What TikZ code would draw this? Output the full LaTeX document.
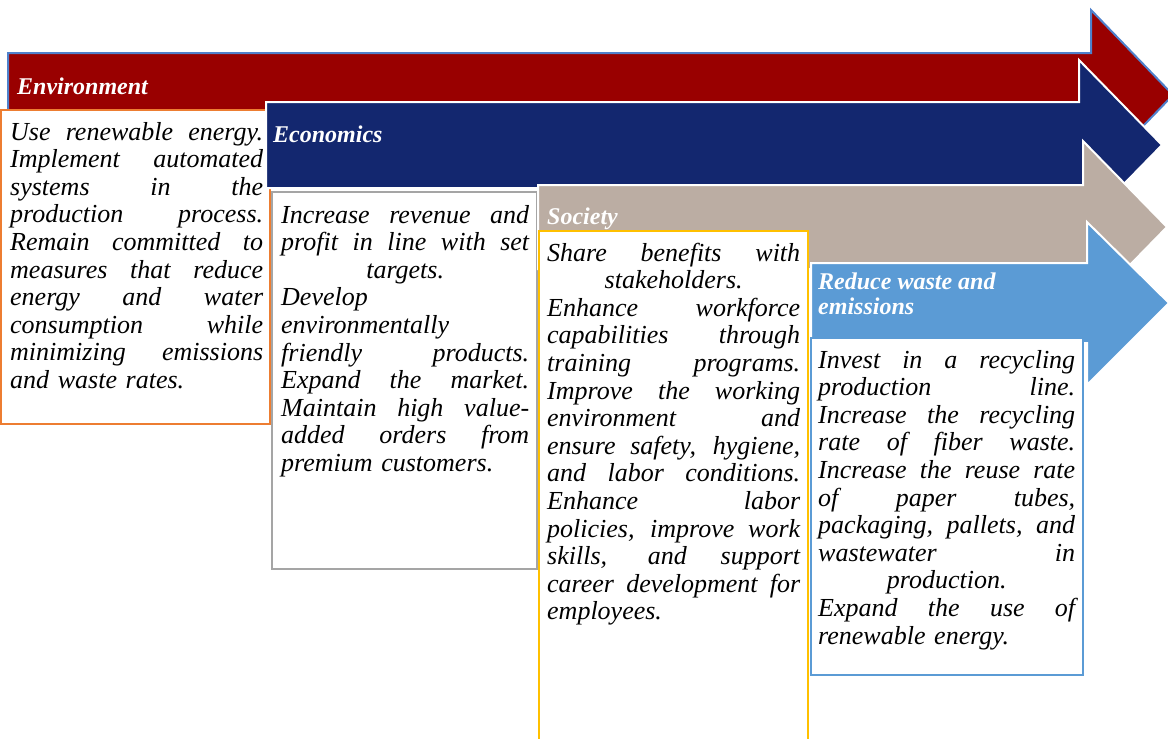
\documentclass[tikz,border=0pt]{standalone}
\usepackage{fontspec}
\setmainfont{Liberation Serif}

\definecolor{envred}{HTML}{990000}
\definecolor{econavy}{HTML}{13276F}
\definecolor{soctaupe}{HTML}{BBADA3}
\definecolor{redblue}{HTML}{5B9BD5}
\definecolor{rimblue}{HTML}{4F81CC}
\definecolor{boxorange}{HTML}{ED7D31}
\definecolor{boxgray}{HTML}{A5A5A5}
\definecolor{boxgold}{HTML}{FFC000}

% one justified line, one centred line
\newcommand{\jl}[1]{\makebox[\linewidth][s]{\spaceskip=0pt\xspaceskip=0pt #1}\\}
\newcommand{\cl}[1]{\makebox[\linewidth][c]{#1}\\}

\tikzset{
  heading/.style = {
    anchor      = base west,
    inner sep   = 0pt,                              % no padding
    font        = \fontsize{24}{25}\selectfont\bfseries\itshape,
    text        = white,                            % label colour
    align       = left,
  },
  bodytext/.style = {
    anchor      = base west,
    inner sep   = 0pt,
    font        = \fontsize{26}{27.6}\selectfont\itshape,
    text        = black,
    align       = left,
    text width  = #1,                               % column width
  },
  arrowshape/.style = {
    line width  = 2pt,
    fill        = #1,
  },
  column/.style = {
    line width  = 2pt,
    draw        = #1,                               % border
    fill        = white,
  },
}

\begin{document}
\begin{tikzpicture}[x=1pt, y=-1pt]
\useasboundingbox (0,0) rectangle (1168,739);
\clip (0,0) rectangle (1168,739);

% Environment
\draw[arrowshape=envred, draw=rimblue]
  (8,53) -- (1091,53) -- (1091,10) -- (1173,95) -- (1091,180)
  -- (1091,137) -- (8,137) -- cycle;
\node[heading] (envhead) at (17,94) {Environment};
\draw[column=boxorange] (1,110) rectangle (270,424);
\node[bodytext=253pt] (envtext) at (10,140) {%
  \jl{Use renewable energy.}
  \jl{Implement automated}
  \jl{systems in the}
  \jl{production process.}
  \jl{Remain committed to}
  \jl{measures that reduce}
  \jl{energy and water}
  \jl{consumption while}
  \jl{minimizing emissions}
  and waste rates.};

% Economics
\draw[arrowshape=econavy, draw=white]
  (266,102) -- (1079,102) -- (1079,60) -- (1162,145) -- (1079,230)
  -- (1079,188) -- (266,188) -- cycle;
\node[heading] (ecohead) at (273,142) {Economics};
\draw[column=boxgray] (272,192) rectangle (537,569);
\node[bodytext=248pt] (ecotext) at (281,223) {%
  \jl{Increase revenue and}
  \jl{profit in line with set}
  \cl{targets.}
  Develop\\
  environmentally\\
  \jl{friendly products.}
  \jl{Expand the market.}
  \jl{Maintain high value-}
  \jl{added orders from}
  premium customers.};

% Society
\draw[arrowshape=soctaupe, draw=white]
  (538,185) -- (1083,185) -- (1083,141) -- (1167,227) -- (1083,313)
  -- (1083,269) -- (538,269) -- cycle;
\node[heading] (sochead) at (547,224) {Society};
\draw[column=boxgold] (539,231) rectangle (808,760);
\node[bodytext=253pt] (soctext) at (547,261) {%
  \jl{Share benefits with}
  \cl{stakeholders.}
  \jl{Enhance workforce}
  \jl{capabilities through}
  \jl{training programs.}
  \jl{Improve the working}
  \jl{environment and}
  \jl{ensure safety, hygiene,}
  \jl{and labor conditions.}
  \jl{Enhance labor}
  \jl{policies, improve work}
  \jl{skills, and support}
  \jl{career development for}
  employees.};

% Reduce waste and emissions
\draw[arrowshape=redblue, draw=white]
  (811,263) -- (1087,263) -- (1087,222) -- (1169,303) -- (1087,385)
  -- (1087,343) -- (811,343) -- cycle;
\node[heading] (redhead) at (818,314) {Reduce waste and\\emissions};
\draw[column=redblue] (811,338) rectangle (1083,675);
\node[bodytext=257pt] (redtext) at (818,368) {%
  \jl{Invest in a recycling}
  \jl{production line.}
  \jl{Increase the recycling}
  \jl{rate of fiber waste.}
  \jl{Increase the reuse rate}
  \jl{of paper tubes,}
  \jl{packaging, pallets, and}
  \jl{wastewater in}
  \cl{production.}
  \jl{Expand the use of}
  renewable energy.};
\end{tikzpicture}
\end{document}
